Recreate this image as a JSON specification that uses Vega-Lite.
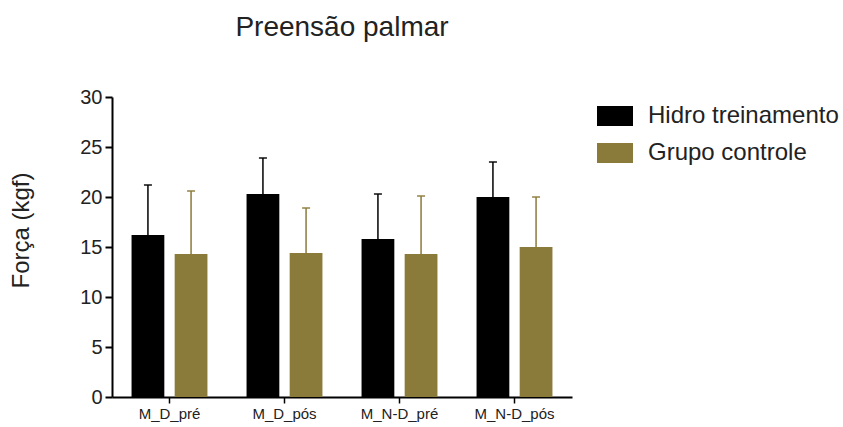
{
  "$schema": "https://vega.github.io/schema/vega-lite/v6.json",
  "autosize": {"type": "none"},
  "padding": {"left": 112, "top": 97, "right": 271, "bottom": 30},
  "width": 460,
  "height": 300,
  "background": "white",
  "title": {"text": "Preensão palmar", "fontSize": 28, "font": "Liberation Sans", "fontWeight": "normal", "color": "#222", "anchor": "middle", "offset": 45},
  "config": {
    "font": "Liberation Sans",
    "view": {"stroke": null},
    "axis": {"grid": false, "domainColor": "#000", "tickColor": "#000", "labelColor": "#222", "titleColor": "#222"}
  },
  "data": {"values": [
    {"momento": "M_D_pré", "grupo": "Hidro treinamento", "media": 16.2, "superior": 21.2},
    {"momento": "M_D_pré", "grupo": "Grupo controle", "media": 14.3, "superior": 20.6},
    {"momento": "M_D_pós", "grupo": "Hidro treinamento", "media": 20.3, "superior": 23.9},
    {"momento": "M_D_pós", "grupo": "Grupo controle", "media": 14.4, "superior": 18.9},
    {"momento": "M_N-D_pré", "grupo": "Hidro treinamento", "media": 15.8, "superior": 20.3},
    {"momento": "M_N-D_pré", "grupo": "Grupo controle", "media": 14.3, "superior": 20.1},
    {"momento": "M_N-D_pós", "grupo": "Hidro treinamento", "media": 20.0, "superior": 23.5},
    {"momento": "M_N-D_pós", "grupo": "Grupo controle", "media": 15.0, "superior": 20.0}
  ]},
  "encoding": {
    "x": {"field": "momento", "type": "nominal", "sort": ["M_D_pré", "M_D_pós", "M_N-D_pré", "M_N-D_pós"],
      "scale": {"paddingInner": 0.34, "paddingOuter": 0.17},
      "axis": {"title": null, "labelAngle": 0, "labelFontSize": 15, "domainWidth": 2, "tickSize": 6, "tickWidth": 1.5, "labelPadding": 3}},
    "xOffset": {"field": "grupo", "type": "nominal", "sort": ["Hidro treinamento", "Grupo controle"], "scale": {"paddingInner": 0.24}},
    "color": {"field": "grupo", "type": "nominal", "sort": ["Hidro treinamento", "Grupo controle"],
      "scale": {"range": ["#000000", "#8b7b3a"]},
      "legend": {"title": null, "orient": "none", "legendX": 485, "legendY": 1, "padding": 0, "labelFontSize": 24, "labelLimit": 400, "labelColor": "#222", "symbolType": "M-1,-0.56H1V0.56H-1Z", "symbolSize": 1296, "symbolOpacity": 1, "symbolStrokeWidth": 0, "rowPadding": 7, "labelOffset": 15}}
  },
  "layer": [
    {
      "mark": {"type": "rule", "strokeWidth": 1.5},
      "encoding": {
        "y": {"field": "media", "type": "quantitative"},
        "y2": {"field": "superior"}
      }
    },
    {
      "mark": {"type": "tick", "thickness": 2, "size": 8, "orient": "horizontal"},
      "encoding": {
        "y": {"field": "superior", "type": "quantitative"}
      }
    },
    {
      "mark": {"type": "bar"},
      "encoding": {
        "y": {"field": "media", "type": "quantitative", "scale": {"domain": [0, 30]},
          "axis": {"title": "Força (kgf)", "titleFontSize": 24, "titleFontWeight": "normal", "titleX": -91, "titleY": 133, "titleAngle": -90, "titleAlign": "center", "titleBaseline": "middle", "values": [0, 5, 10, 15, 20, 25, 30], "labelFontSize": 20, "domainWidth": 2, "tickSize": 7, "tickWidth": 2, "labelPadding": 3}}
      }
    }
  ]
}
